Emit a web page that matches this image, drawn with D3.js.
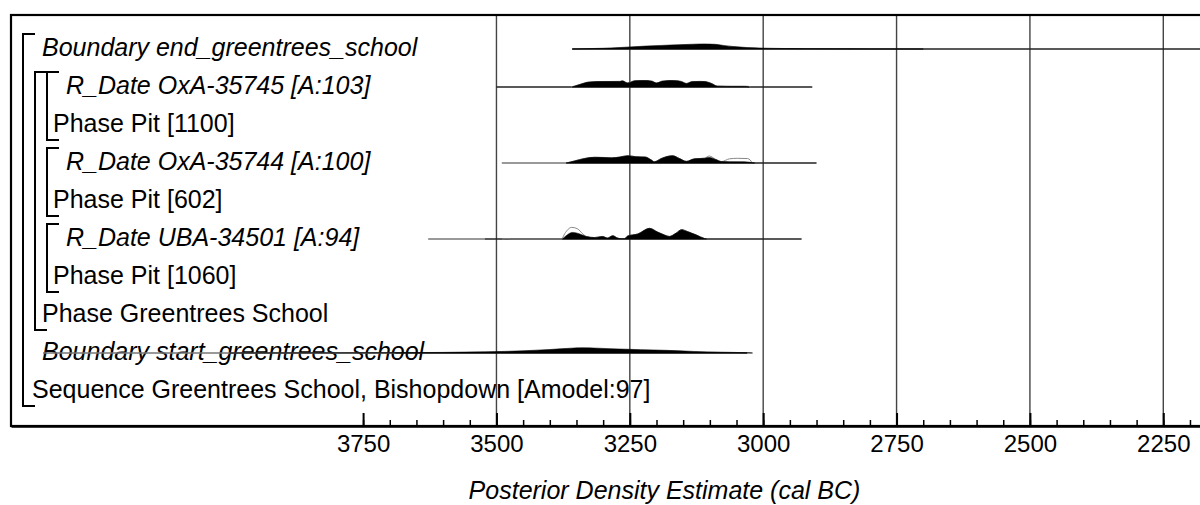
<!DOCTYPE html>
<html>
<head>
<meta charset="utf-8">
<script src="https://cdn.jsdelivr.net/npm/d3@7"></script>
<style>
  body { margin: 0; background: #fff; }
  svg { display: block; font-family: "Liberation Sans", Arial, sans-serif; }
</style>
</head>
<body>
<svg width="1200" height="505"></svg>
<script>
// rows, top to bottom
const rowLabels = [
  "Boundary end_greentrees_school",
  "R_Date OxA-35745 [A:103]",
  "Phase Pit [1100]",
  "R_Date OxA-35744 [A:100]",
  "Phase Pit [602]",
  "R_Date UBA-34501 [A:94]",
  "Phase Pit [1060]",
  "Phase Greentrees School",
  "Boundary start_greentrees_school",
  "Sequence Greentrees School, Bishopdown [Amodel:97]"
];
const rowItalic = [true, true, false, true, false, true, false, false, true, false];
const rowDepth = [1, 3, 2, 3, 2, 3, 2, 1, 1, 0];

// brackets: [first row, last row, depth]
const brackets = [
  [0, 9, 0],  // Sequence
  [1, 7, 1],  // Phase Greentrees School
  [1, 2, 2],  // Phase Pit [1100]
  [3, 4, 2],  // Phase Pit [602]
  [5, 6, 2]   // Phase Pit [1060]
];

const majorTicks = [3750, 3500, 3250, 3000, 2750, 2500, 2250];
const gridYears = [3500, 3250, 3000, 2750, 2500, 2250];
const minorTicks = d3.range(3750, 2099, -50);

// range lines under each distribution: [row, light start, dark start, end] (cal BC)
const rangeLines = [
  [0, 3358, 3358, 1900],
  [1, 3500, 3500, 2908],
  [3, 3490, 3370, 2900],
  [5, 3628, 3522, 2928],
  [8, 4350, 3690, 3030]
];

// densities: [cal BC, relative probability]
const endBoundaryPost = [[3358,0],[3330,0.03],[3300,0.06],[3270,0.12],[3250,0.17],[3220,0.24],[3190,0.3],[3160,0.35],[3130,0.4],[3110,0.42],[3090,0.39],[3075,0.3],[3055,0.2],[3030,0.12],[3000,0.07],[2960,0.04],[2920,0.025],[2870,0.012],[2800,0.004],[2700,0]];

const oxa35745Post = [[3358,0],[3344,0.21],[3326,0.42],[3298,0.46],[3269,0.46],[3264,0.52],[3254,0.33],[3241,0.52],[3222,0.54],[3209,0.5],[3200,0.33],[3189,0.5],[3166,0.54],[3153,0.46],[3144,0.29],[3133,0.46],[3110,0.46],[3097,0.29],[3086,0.07],[3069,0.05],[3035,0.05],[3026,0]];
const oxa35745Prior = [[3360,0],[3344,0.2],[3326,0.4],[3298,0.45],[3269,0.47],[3254,0.35],[3241,0.5],[3222,0.53],[3200,0.35],[3175,0.53],[3144,0.3],[3120,0.47],[3097,0.3],[3086,0.08],[3060,0.06],[3030,0.06],[3024,0]];

const oxa35744Post = [[3369,0],[3354,0.17],[3335,0.38],[3316,0.48],[3298,0.46],[3284,0.43],[3269,0.5],[3254,0.61],[3239,0.53],[3221,0.5],[3211,0.29],[3204,0.11],[3191,0.38],[3170,0.61],[3157,0.38],[3144,0.14],[3129,0.35],[3110,0.39],[3101,0.46],[3089,0.29],[3078,0.12],[3063,0.11],[3035,0.1],[3016,0]];
const oxa35744Prior = [[3369,0],[3354,0.16],[3335,0.37],[3316,0.47],[3298,0.45],[3284,0.42],[3269,0.49],[3254,0.6],[3239,0.52],[3221,0.49],[3211,0.28],[3204,0.1],[3191,0.37],[3170,0.6],[3157,0.37],[3144,0.13],[3129,0.34],[3110,0.4],[3101,0.58],[3089,0.3],[3078,0.12],[3063,0.35],[3048,0.39],[3029,0.37],[3020,0]];

const uba34501Post = [[3376,0],[3370,0.25],[3357,0.55],[3344,0.42],[3331,0.2],[3316,0.12],[3301,0.21],[3292,0.08],[3282,0.27],[3273,0.08],[3266,0.02],[3260,0.03],[3254,0.25],[3235,0.42],[3213,0.89],[3198,0.58],[3185,0.33],[3176,0.21],[3163,0.5],[3153,0.78],[3142,0.62],[3125,0.33],[3110,0.04],[3106,0]];
const uba34501Prior = [[3490,0],[3481,0.03],[3472,0],[3378,0],[3372,0.45],[3359,0.97],[3348,0.85],[3338,0.42],[3331,0.2],[3316,0.12],[3301,0.21],[3292,0.08],[3282,0.27],[3273,0.08],[3266,0.02],[3260,0.03],[3254,0.25],[3235,0.42],[3213,0.89],[3198,0.58],[3185,0.33],[3176,0.21],[3163,0.5],[3153,0.78],[3142,0.62],[3125,0.33],[3110,0.04],[3106,0]];

const startBoundaryPost = [[4000,0],[3700,0.02],[3600,0.05],[3520,0.1],[3450,0.18],[3400,0.29],[3360,0.4],[3340,0.43],[3310,0.4],[3270,0.33],[3230,0.28],[3180,0.22],[3130,0.13],[3080,0.07],[3030,0.02],[3020,0]];

const distributions = [
  { row: 0, post: endBoundaryPost, prior: null },
  { row: 1, post: oxa35745Post, prior: oxa35745Prior },
  { row: 3, post: oxa35744Post, prior: oxa35744Prior },
  { row: 5, post: uba34501Post, prior: uba34501Prior },
  { row: 8, post: startBoundaryPost, prior: null }
];

const svg = d3.select("svg");
const frameLeft = 11, frameRight = 1318, frameTop = 15, frameBottom = 426;

const x = d3.scaleLinear().domain([4410, 1960]).range([frameLeft, frameRight]);
const y = d3.scaleLinear().domain([0, 9]).range([49, 391]);
const h = d3.scaleLinear().domain([0, 1]).range([0, 12]);

const labelIndent = [32, 42, 53, 66];
const bracketX = [23, 35, 47];

const plot = svg.append("g");

// labels
plot.selectAll("text.label")
  .data(rowLabels)
  .enter()
  .append("text")
  .attr("class", "label")
  .attr("x", (d, i) => labelIndent[rowDepth[i]])
  .attr("y", (d, i) => y(i) + 7)
  .attr("font-size", 25)
  .attr("font-style", (d, i) => rowItalic[i] ? "italic" : "normal")
  .attr("fill", "#000")
  .text(d => d);

// grid lines
plot.selectAll("line.grid")
  .data(gridYears)
  .enter()
  .append("line")
  .attr("class", "grid")
  .attr("x1", d => x(d)).attr("x2", d => x(d))
  .attr("y1", frameTop).attr("y2", frameBottom)
  .attr("stroke", "#444")
  .attr("stroke-width", 1.4);

// range lines
rangeLines.forEach(([row, lightFrom, darkFrom, to]) => {
  plot.append("line")
    .attr("x1", x(lightFrom)).attr("x2", x(darkFrom))
    .attr("y1", y(row)).attr("y2", y(row))
    .attr("stroke", "#777").attr("stroke-width", 1.3);
  plot.append("line")
    .attr("x1", x(darkFrom)).attr("x2", x(to))
    .attr("y1", y(row)).attr("y2", y(row))
    .attr("stroke", "#222").attr("stroke-width", 1.4);
});

// distributions
distributions.forEach(dist => {
  const base = y(dist.row);
  const area = d3.area()
    .x(d => x(d[0]))
    .y0(base)
    .y1(d => base - h(d[1]))
    .curve(d3.curveMonotoneX);
  if (dist.prior) {
    const line = d3.line()
      .x(d => x(d[0]))
      .y(d => base - h(d[1]))
      .curve(d3.curveMonotoneX);
    plot.append("path")
      .attr("d", line(dist.prior))
      .attr("fill", "none")
      .attr("stroke", "#888")
      .attr("stroke-width", 1);
  }
  plot.append("path")
    .attr("d", area(dist.post))
    .attr("fill", "#000")
    .attr("stroke", "#000")
    .attr("stroke-width", 0.6);
});

// brackets
brackets.forEach(([first, last, depth]) => {
  const bx = bracketX[depth];
  const y1 = y(first) - 15, y2 = y(last) + 15;
  plot.append("path")
    .attr("d", `M${bx + 12},${y1}H${bx}V${y2}H${bx + 12}`)
    .attr("fill", "none")
    .attr("stroke", "#000")
    .attr("stroke-width", 2);
});

// frame
svg.append("rect")
  .attr("x", frameLeft).attr("y", frameTop)
  .attr("width", frameRight - frameLeft).attr("height", frameBottom - frameTop)
  .attr("fill", "none")
  .attr("stroke", "#000")
  .attr("stroke-width", 2.2);

// axis
const minorAxis = d3.axisBottom(x)
  .tickValues(minorTicks)
  .tickSize(-6)
  .tickSizeOuter(0)
  .tickFormat("");
svg.append("g")
  .attr("transform", `translate(0,${frameBottom})`)
  .call(minorAxis)
  .call(g => g.select(".domain").remove())
  .call(g => g.selectAll(".tick line").attr("stroke", "#000").attr("stroke-width", 1.5));

const majorAxis = d3.axisBottom(x)
  .tickValues(majorTicks)
  .tickSize(-13)
  .tickSizeOuter(0)
  .tickPadding(9)
  .tickFormat(d3.format("d"));
svg.append("g")
  .attr("transform", `translate(0,${frameBottom})`)
  .call(majorAxis)
  .call(g => g.select(".domain").attr("stroke", "#000").attr("stroke-width", 2.6))
  .call(g => g.selectAll(".tick line").attr("stroke", "#000").attr("stroke-width", 2))
  .call(g => g.selectAll(".tick text")
    .attr("font-family", "'Liberation Sans', Arial, sans-serif")
    .attr("font-size", 24)
    .attr("fill", "#000"));

svg.append("text")
  .attr("x", (frameLeft + frameRight) / 2)
  .attr("y", 499)
  .attr("text-anchor", "middle")
  .attr("font-size", 25)
  .attr("font-style", "italic")
  .attr("fill", "#000")
  .text("Posterior Density Estimate (cal BC)");
</script>
</body>
</html>
